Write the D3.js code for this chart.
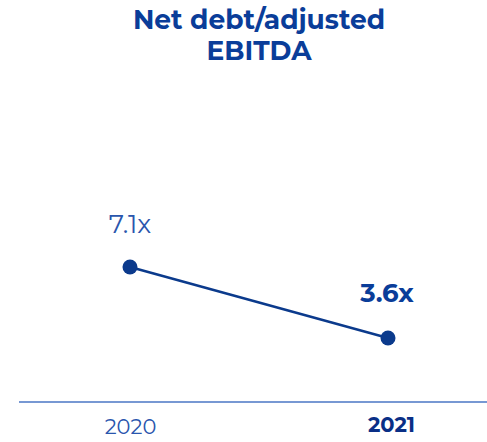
<!DOCTYPE html>
<html>
<head>
<meta charset="utf-8">
<script src="https://cdn.jsdelivr.net/npm/d3@7/dist/d3.min.js"></script>
<style>
  html, body { margin: 0; padding: 0; background: #fff; }
  svg { display: block; }
</style>
</head>
<body>
<svg id="chart" width="487" height="442"></svg>
<script>
// Net debt / adjusted EBITDA by year
const years = ["2020", "2021"];
const ratios = [7.1, 3.6];
const valueLabels = ["7.1x", "3.6x"];
const titleLines = ["Net debt/adjusted", "EBITDA"];

const W = 487, H = 442;
const svg = d3.select("#chart");
const font = "Montserrat, 'Noto Sans', 'Open Sans', sans-serif";
const navy = "#0b3a8c";

const x = d3.scalePoint().domain(years).range([130, 388]);
const y = d3.scaleLinear().domain([0, 10]).range([411, 208.1]);

// Title
svg.append("g").selectAll("text").data(titleLines).join("text")
  .attr("x", 259).attr("y", (d, i) => 29 + i * 31)
  .attr("text-anchor", "middle")
  .attr("font-family", font).attr("font-weight", 700).attr("font-size", 26.5)
  .attr("fill", "#0a3d99")
  .text(d => d);

// Baseline axis
const axis = svg.append("g").attr("transform", "translate(0,402)")
  .call(d3.axisBottom(x).tickSize(0).tickPadding(0));
axis.select(".domain").remove();
axis.append("line").attr("x1", 19).attr("x2", 487)
  .attr("stroke", "#4a76c4").attr("stroke-width", 1.5);
axis.selectAll(".tick text")
  .attr("font-family", font)
  .attr("font-size", 21)
  .attr("dy", 0)
  .attr("x", (d, i) => i === 1 ? 3 : 0)
  .attr("y", (d, i) => i === 1 ? 30 : 32)
  .attr("font-weight", (d, i) => i === 1 ? 700 : 400)
  .attr("fill", (d, i) => i === 1 ? "#0a2f86" : "#2a56ad");

const pts = years.map((yr, i) => ({ yr, v: ratios[i], label: valueLabels[i], i }));

// Connecting line
svg.append("path").datum(pts)
  .attr("d", d3.line().x(d => x(d.yr)).y(d => y(d.v)))
  .attr("fill", "none").attr("stroke", navy).attr("stroke-width", 2.5);

// Points
svg.append("g").selectAll("circle").data(pts).join("circle")
  .attr("cx", d => x(d.yr)).attr("cy", d => y(d.v)).attr("r", 7.5)
  .attr("fill", navy);

// Value labels
svg.append("g").selectAll("text").data(pts).join("text")
  .attr("x", d => x(d.yr) + (d.i === 1 ? -1 : 0))
  .attr("y", d => y(d.v) - (d.i === 1 ? 36 : 34))
  .attr("text-anchor", "middle")
  .attr("font-family", font)
  .attr("font-size", 26)
  .attr("font-weight", d => d.i === 1 ? 700 : 400)
  .attr("fill", d => d.i === 1 ? "#0a3d99" : "#2a56ad")
  .text(d => d.label);
</script>
</body>
</html>
